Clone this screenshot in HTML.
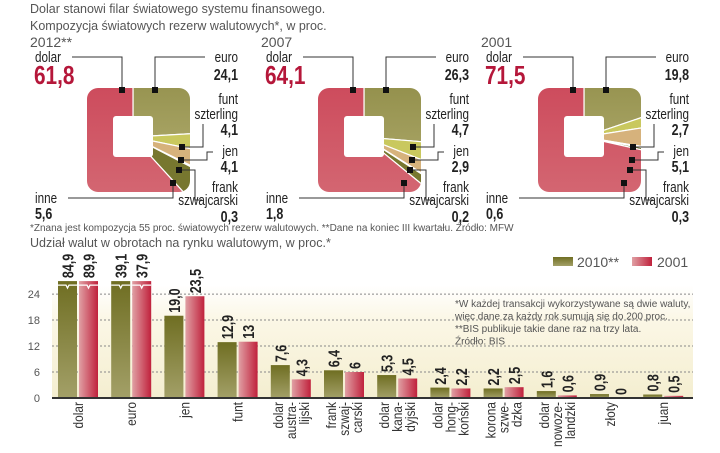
<!DOCTYPE html>
<html><head><meta charset="utf-8"><style>
body{margin:0;background:#fff;}
svg{display:block;font-family:"Liberation Sans",sans-serif;}
.t{fill:#555;font-size:12.5px;}
.lb{fill:#222;font-size:15px;}
.nb{fill:#222;font-size:16px;font-weight:bold;}
.big{fill:#b5173a;font-size:26px;font-weight:bold;}
.note{fill:#555;font-size:10px;}
</style></head><body>
<svg id="root" width="720" height="453" viewBox="0 0 720 453">
<defs>
<linearGradient id="gRed" x1="0" y1="0" x2="0" y2="1"><stop offset="0" stop-color="#c4263f"/><stop offset="1" stop-color="#dc8a8e"/></linearGradient>
<linearGradient id="gOl" x1="0" y1="0" x2="0" y2="1"><stop offset="0" stop-color="#6c6a1e"/><stop offset="1" stop-color="#a6a262"/></linearGradient>
<linearGradient id="bOl" x1="0" y1="0" x2="0" y2="1"><stop offset="0" stop-color="#6f6e22"/><stop offset="1" stop-color="#a3a068"/></linearGradient>
<linearGradient id="bRed" x1="0" y1="0" x2="1" y2="0"><stop offset="0" stop-color="#e0a0a4"/><stop offset="1" stop-color="#c0213c"/></linearGradient>
<linearGradient id="bg" x1="0" y1="0" x2="0" y2="1"><stop offset="0" stop-color="#fff"/><stop offset="0.3" stop-color="#fbf7e6"/><stop offset="1" stop-color="#f4eed0"/></linearGradient>
<clipPath id="sq"><rect x="87" y="88" width="103" height="104" rx="11"/></clipPath>
</defs>
<text class="t" x="30" y="13">Dolar stanowi filar światowego systemu finansowego.</text>
<text class="t" x="30" y="30">Kompozycja światowych rezerw walutowych*, w proc.</text>
<g id="pies"></g>
<text class="note" x="30" y="231">*Znana jest kompozycja 55 proc. światowych rezerw walutowych. **Dane na koniec III kwartału. Źródło: MFW</text>
<text class="t" x="30" y="247">Udział walut w obrotach na rynku walutowym, w proc.*</text>
<g id="bars"></g>
</svg>
<script>
// Reserves composition (order: euro, funt, jen, frank, inne, dolar)
const pieYears=["2012**","2007","2001"];
const pieDolar=[61.8,64.1,71.5];
const pieEuro=[24.1,26.3,19.8];
const pieFunt=[4.1,4.7,2.7];
const pieJen=[4.1,2.9,5.1];
const pieFrank=[0.3,0.2,0.3];
const pieInne=[5.6,1.8,0.6];
// FX turnover
const categories=[["dolar"],["euro"],["jen"],["funt"],["dolar","austra-","lijski"],["frank","szwaj-","carski"],["dolar","kana-","dyjski"],["dolar","hong-","koński"],["korona","szwe-","dzka"],["dolar","nowoze-","landzki"],["złoty"],["juan"]];
const vals2010=[84.9,39.1,19.0,12.9,7.6,6.4,5.3,2.4,2.2,1.6,0.9,0.8];
const vals2001=[89.9,37.9,23.5,13,4.3,6,4.5,2.2,2.5,0.6,0,0.5];
const labels2010=["84,9","39,1","19,0","12,9","7,6","6,4","5,3","2,4","2,2","1,6","0,9","0,8"];
const labels2001=["89,9","37,9","23,5","13","4,3","6","4,5","2,2","2,5","0,6","0","0,5"];
const yTicks=[0,6,12,18,24];

const NS="http://www.w3.org/2000/svg";
function mk(tag,attrs,parent){const e=document.createElementNS(NS,tag);for(const k in attrs)e.setAttribute(k,attrs[k]);parent.appendChild(e);return e;}
const fmt=v=>String(v).replace('.',',');
// condensed text helper
function ct(parent,x,y,s,cls,anc,rot,sx,style){
  const t=mk('text',{x:0,y:0,transform:`translate(${x} ${y})`+(rot?` rotate(${rot})`:'')+` scale(${sx||0.78} 1)`},parent);
  if(cls)t.setAttribute('class',cls);
  if(anc)t.setAttribute('text-anchor',anc);
  if(style)t.setAttribute('style',style);
  t.textContent=s;return t;
}

// ---- pies ----
const pies=document.getElementById('pies');
const offs=[0,231,451];
const cols=["url(#gOl)","#c9c85e","#d6b27c","#f4efe0","#77772f","url(#gRed)"];
const cx=133,cy=137;
pieYears.forEach((yr,i)=>{
  const g=mk('g',{transform:`translate(${offs[i]},0)`},pies);
  
  
  const vals=[pieEuro[i],pieFunt[i],pieJen[i],pieFrank[i],pieInne[i],pieDolar[i]];
  const tot=vals.reduce((a,b)=>a+b,0);
  const sg=mk('g',{'clip-path':'url(#sq)'},g);
  let a0=0;
  const names=['euro','funt','jen','frank','inne','dolar'];
  vals.forEach((v,k)=>{
    const a1=a0+v/tot*360;
    let pts=[[cx,cy]];
    for(let a=a0;a<=a1+0.001;a+=Math.max(0.5,(a1-a0)/40)){const r=(a-90)*Math.PI/180;pts.push([cx+200*Math.cos(r),cy+200*Math.sin(r)]);}
    const r=(a1-90)*Math.PI/180;pts.push([cx+200*Math.cos(r),cy+200*Math.sin(r)]);
    const p=mk('polygon',{points:pts.map(q=>q.join(',')).join(' '),fill:cols[k],stroke:'#fff','stroke-width':1.2},sg);
    
    
    a0=a1;
  });
  mk('rect',{x:113,y:116,width:40,height:41,rx:3,fill:'#fff'},g);
  const L='#333';
  mk('path',{d:'M122,91 V57 H72',stroke:L,fill:'none','stroke-width':1},g);
  mk('path',{d:'M155,91 V57 H205',stroke:L,fill:'none','stroke-width':1},g);
  mk('path',{d:'M182,147 H203 V124',stroke:L,fill:'none','stroke-width':1},g);
  mk('path',{d:'M181,160 H207 V152 H213',stroke:L,fill:'none','stroke-width':1},g);
  mk('path',{d:'M179,170 H195 V200 H202',stroke:L,fill:'none','stroke-width':1},g);
  mk('path',{d:'M173,183 V198 H68',stroke:L,fill:'none','stroke-width':1},g);
  [[122,90],[155,90],[182,147],[181,160],[179,170],[173,183]].forEach(q=>mk('rect',{x:q[0]-3,y:q[1]-3,width:6,height:6,fill:'#111'},g));
  let t;
  t=mk('text',{x:30,y:47,class:'t',style:'font-size:14px'},g);t.textContent=yr;
  
  t=ct(g,35,62,'dolar','lb');
  t=ct(g,34,84,fmt(pieDolar[i]),'big',null,0,0.8);
  ct(g,238,62,'euro','lb','end');
  t=ct(g,238,80,fmt(pieEuro[i]),'nb','end');
  ct(g,238,104,'funt','lb','end');ct(g,238,119,'szterling','lb','end');
  ct(g,238,135,fmt(pieFunt[i]),'nb','end');
  ct(g,238,156,'jen','lb','end');ct(g,238,172,fmt(pieJen[i]),'nb','end');
  ct(g,238,192,'frank','lb','end');ct(g,238,205,'szwajcarski','lb','end');
  ct(g,238,222,fmt(pieFrank[i]),'nb','end');
  ct(g,35,203,'inne','lb');ct(g,35,219,fmt(pieInne[i]),'nb');
});

// ---- bars ----
const bars=document.getElementById('bars');
const x0=52,x1=693,yBase=398,pxU=4.33,cap=27;
const y=v=>yBase-Math.min(v,cap)*pxU;
const gx=i=>58+i*53.2;
mk('rect',{x:x0,y:y(26),width:x1-x0,height:yBase-y(26),fill:'url(#bg)'},bars);
yTicks.forEach(v=>{
  if(v>0){const l=mk('line',{x1:x0,x2:x1,y1:y(v),y2:y(v),stroke:'#888','stroke-dasharray':'2,2'},bars);}
  const t=mk('text',{x:40,y:y(v)+4,'text-anchor':'end',class:'note',style:'font-size:11px'},bars);t.textContent=v;
  
});
categories.forEach((c,i)=>{
  const xa=gx(i),xb=xa+21,w=19;
  const b1=mk('rect',{x:xa,y:y(vals2010[i]),width:w,height:yBase-y(vals2010[i]),fill:'url(#bOl)'},bars);
  
  const b2=mk('rect',{x:xb,y:y(vals2001[i]),width:w,height:yBase-y(vals2001[i]),fill:'url(#bRed)'},bars);
  
  [[xa,vals2010[i]],[xb,vals2001[i]]].forEach(q=>{if(q[1]>cap){mk('path',{d:`M${q[0]},${y(q[1])+4} H${q[0]+8} l1.5,3 l1.5,-3 H${q[0]+w}`,stroke:'#fff',fill:'none','stroke-width':1.3},bars);}});
  [[xa,vals2010[i],labels2010[i]],[xb,vals2001[i],labels2001[i]]].forEach(q=>{
    const yy=y(q[1])-3,xx=q[0]+w/2+6;
    const t=ct(bars,xx,yy,q[2],null,null,-90,0.78,'font-size:16px;font-weight:bold;fill:#222');
    
  });
  const n=c.length,cxg=xa+20;
  c.forEach((s,k)=>{
    const xx=cxg+(k-(n-1)/2)*13+5,yy=402;
    const t=ct(bars,xx,yy,s,null,'end',-90,0.85,'font-size:14px;fill:#333');
    
  });
});
mk('line',{x1:x0,x2:x1,y1:yBase,y2:yBase,stroke:'#333','stroke-width':2},bars);
const lg=mk('g',{},bars);

mk('rect',{x:553,y:257,width:20,height:9,fill:'url(#bOl)'},lg);
let t=mk('text',{x:577,y:267,class:'t',style:'font-size:14px'},lg);t.textContent='2010**';
mk('rect',{x:632,y:257,width:20,height:9,fill:'url(#bRed)'},lg);
t=mk('text',{x:657,y:267,class:'t',style:'font-size:14px'},lg);t.textContent='2001';
["*W każdej transakcji wykorzystywane są dwie waluty,","więc dane za każdy rok sumują się do 200 proc.","**BIS publikuje takie dane raz na trzy lata.","Źródło: BIS"].forEach((s,k)=>{
  const n=mk('text',{x:455,y:307+k*12.5,class:'note'},bars);n.textContent=s;
  
});
</script>
</body></html>
